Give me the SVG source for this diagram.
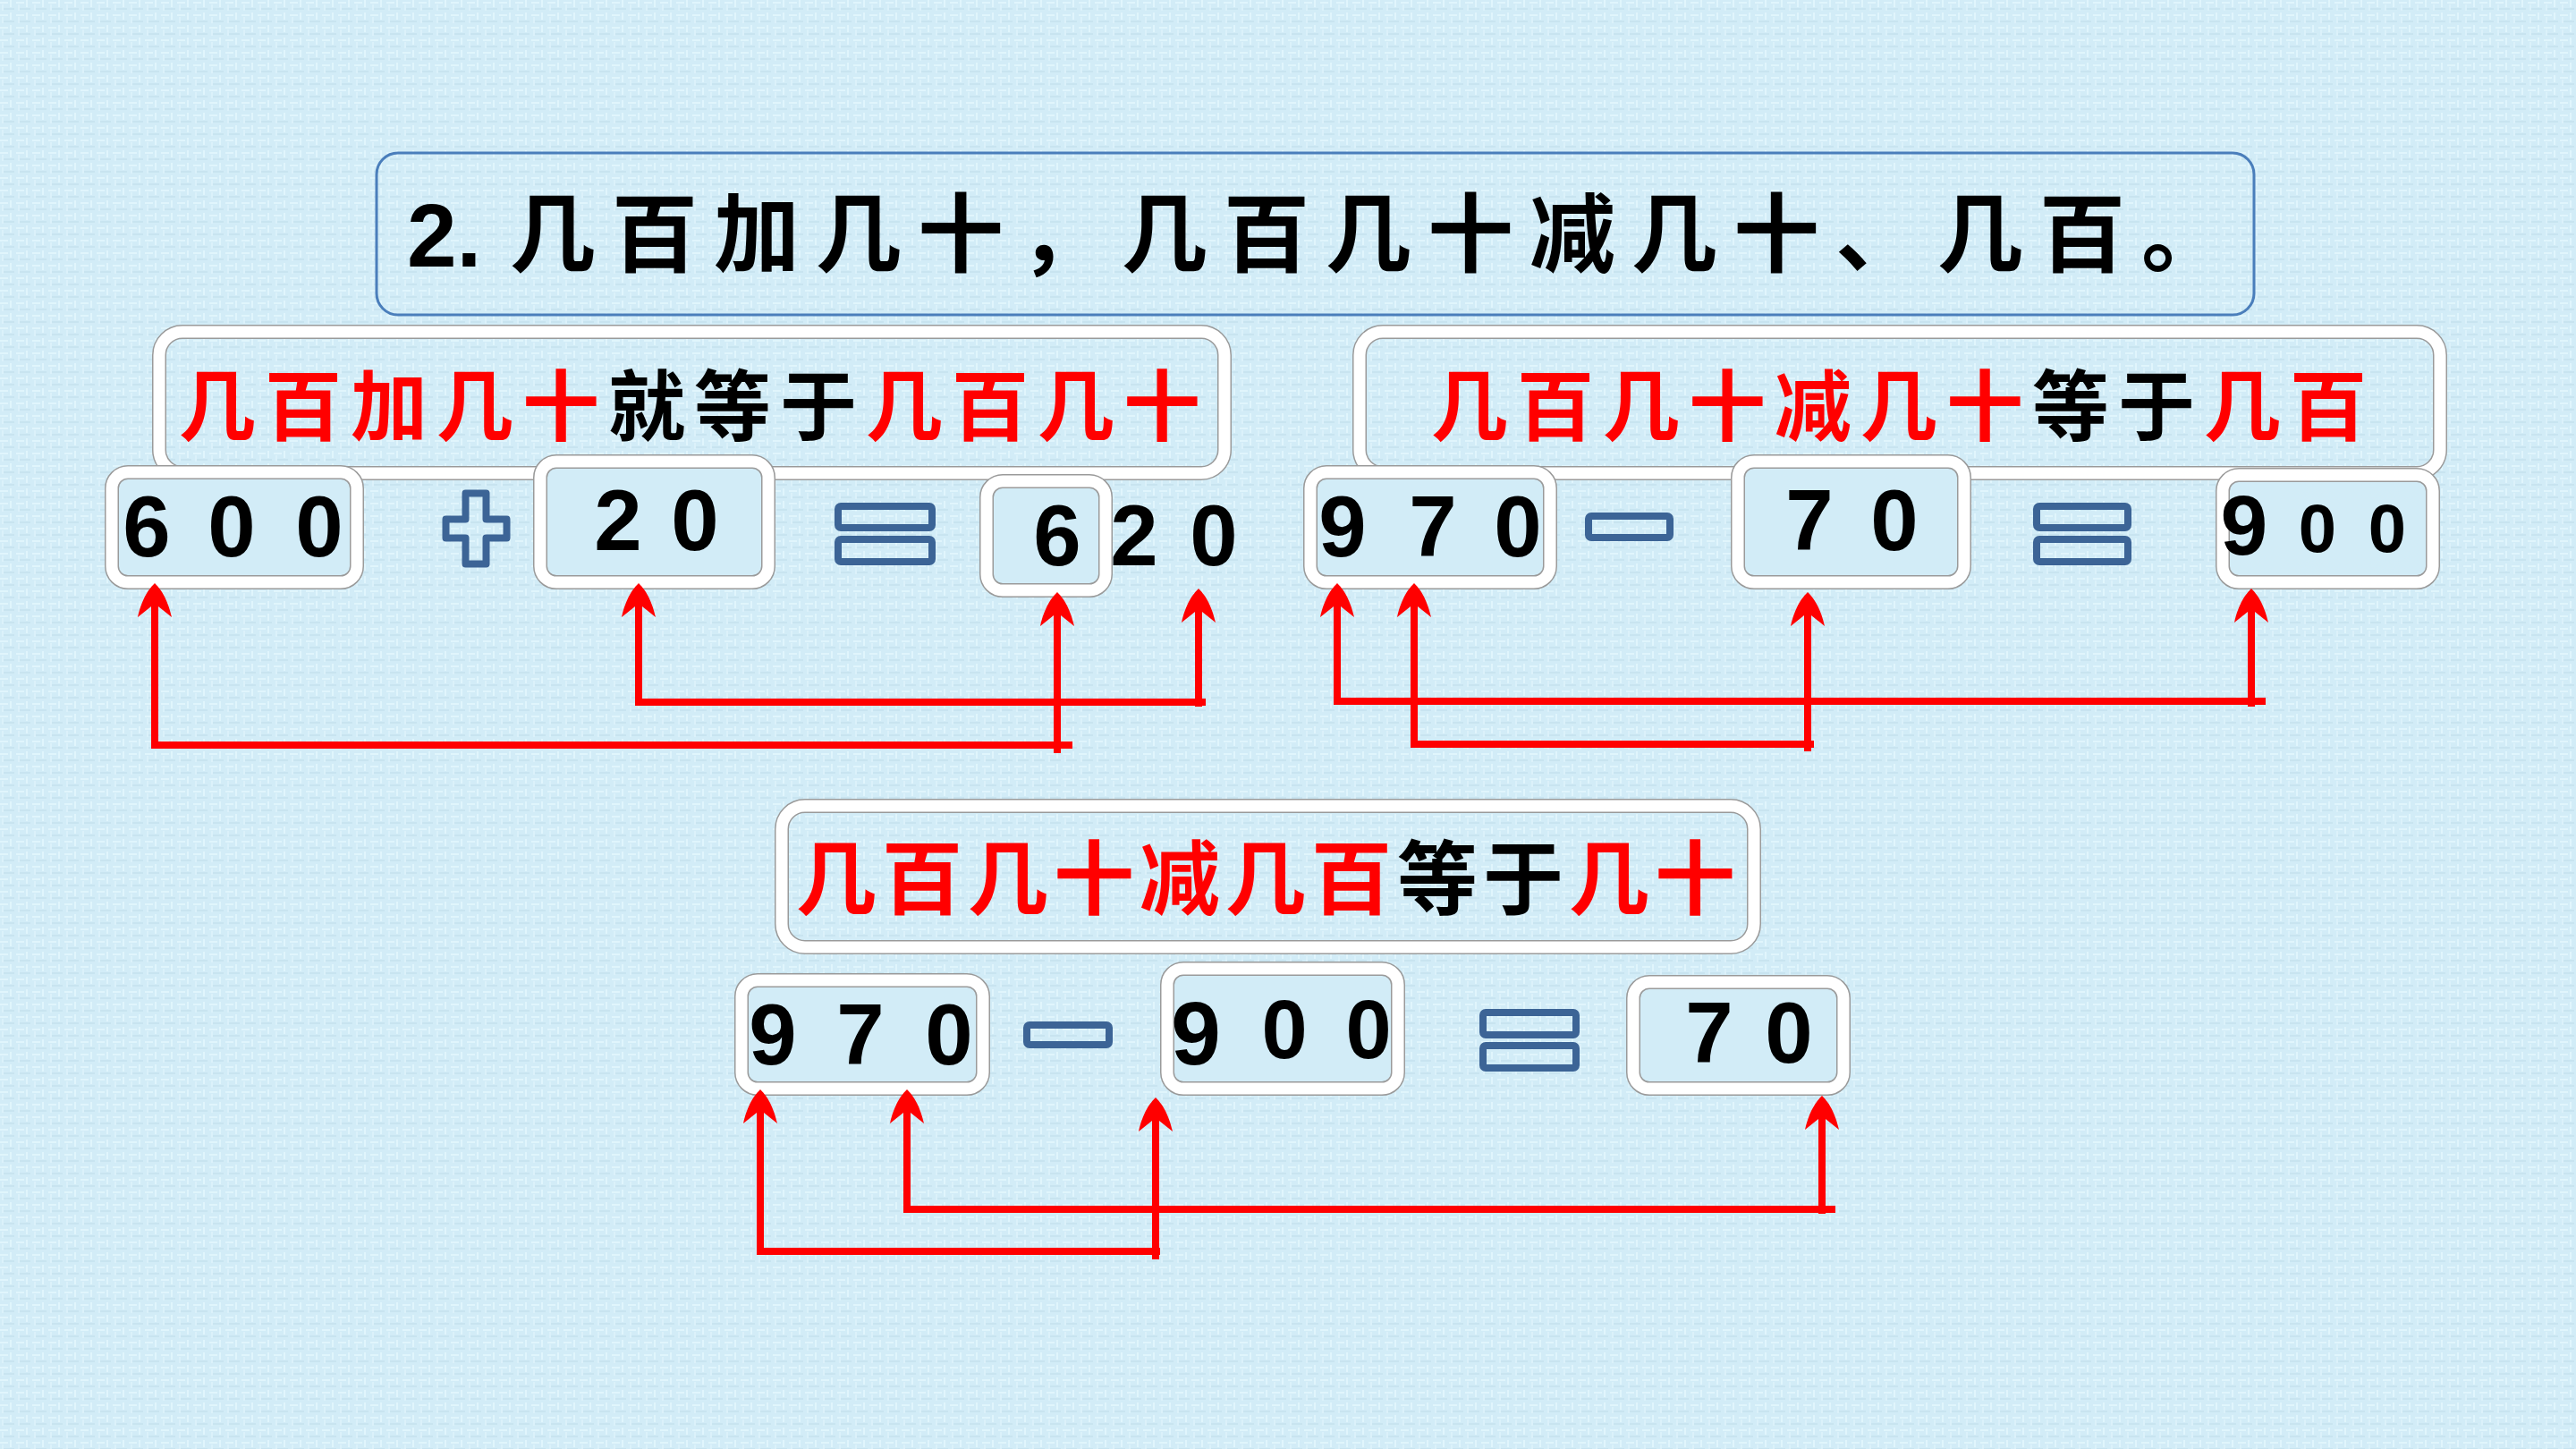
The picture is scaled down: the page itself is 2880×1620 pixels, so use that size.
<svg xmlns="http://www.w3.org/2000/svg" width="2880" height="1620" viewBox="0 0 2880 1620">
<defs>
<pattern id="tex" width="18" height="14" patternUnits="userSpaceOnUse">
<rect width="18" height="14" fill="#d2ecf7"/>
<rect x="0" y="2" width="9" height="2" fill="#e0f5fc"/>
<rect x="11" y="0" width="2" height="8" fill="#e0f5fc"/>
<rect x="4" y="9" width="12" height="2" fill="#c8e4f0"/>
<rect x="2" y="5" width="2" height="7" fill="#dbf1fa"/>
</pattern>
<marker id="ah" markerUnits="userSpaceOnUse" markerWidth="80" markerHeight="80" refX="0" refY="0" viewBox="-40 -40 80 80" orient="auto" overflow="visible">
<path d="M20,0 C14,-6 4,-14 -18,-19 L-6,-4 L-6,4 L-18,19 C4,14 14,6 20,0 Z" fill="#ff0000"/>
</marker>
<style>
.band-o{fill:none;stroke:#9a9a9a;stroke-width:16}
.band-i{fill:none;stroke:#ffffff;stroke-width:13}
.nb-fill{fill:#d2ecf7}
.cjk{font-family:"Noto Sans CJK SC","Noto Sans CJK JP",sans-serif}
.red{fill:#ff0000}
.blk{fill:#000000}
.dig{font-family:"Liberation Sans",Arial,sans-serif;font-weight:bold;fill:#000;text-anchor:middle}
.op{fill:none;stroke:#3c6496;stroke-width:8;stroke-linejoin:round}
.conn{fill:none;stroke:#ff0000;stroke-width:8;stroke-linejoin:miter}
.arr{marker-end:url(#ah)}
</style>
</defs>
<rect width="2880" height="1620" fill="url(#tex)"/>

<g id="title">
<rect x="421" y="171" width="2099" height="181" rx="24" fill="none" stroke="#4a7ebb" stroke-width="3"/>
<text x="455" y="298" font-family="Liberation Sans, Arial, sans-serif" font-weight="bold" font-size="100" fill="#000">2.</text>
<text x="570" y="296" class="cjk blk" font-size="96" font-weight="bold" letter-spacing="18">几百加几十，几百几十减几十、几百。</text>
</g>

<g id="rule1">
<rect x="178" y="371" width="1191" height="158" rx="26" class="band-o"/>
<rect x="178" y="371" width="1191" height="158" rx="26" class="band-i"/>
<text x="200" y="486" class="cjk" font-size="86" font-weight="bold" letter-spacing="10"><tspan class="red">几百加几十</tspan><tspan class="blk">就等于</tspan><tspan class="red">几百几十</tspan></text>
</g>

<g id="rule2">
<rect x="1520" y="371" width="1208" height="158" rx="26" class="band-o"/>
<rect x="1520" y="371" width="1208" height="158" rx="26" class="band-i"/>
<text x="1600" y="486" class="cjk" font-size="86" font-weight="bold" letter-spacing="10"><tspan class="red">几百几十减几十</tspan><tspan class="blk">等于</tspan><tspan class="red">几百</tspan></text>
</g>

<g id="rule3">
<rect x="874" y="901" width="1087" height="158" rx="26" class="band-o"/>
<rect x="874" y="901" width="1087" height="158" rx="26" class="band-i"/>
<text x="890" y="1015" class="cjk" font-size="90" font-weight="bold" letter-spacing="6"><tspan class="red">几百几十减几百</tspan><tspan class="blk">等于</tspan><tspan class="red">几十</tspan></text>
</g>

<g id="n600">
<rect x="125" y="528" width="274" height="123" rx="18" class="nb-fill"/>
<rect x="125" y="528" width="274" height="123" rx="18" class="band-o"/>
<rect x="125" y="528" width="274" height="123" rx="18" class="band-i"/>
<text class="dig" font-size="96" y="622"><tspan x="164">6</tspan><tspan x="259">0</tspan><tspan x="357">0</tspan></text>
</g>

<g id="plus">
<path class="op" d="M520.5,551.5 H543.5 V580.5 H566.5 V601.5 H543.5 V630.5 H520.5 V601.5 H498.5 V580.5 H520.5 Z"/>
</g>

<g id="n20">
<rect x="604" y="516" width="255" height="135" rx="18" class="nb-fill"/>
<rect x="604" y="516" width="255" height="135" rx="18" class="band-o"/>
<rect x="604" y="516" width="255" height="135" rx="18" class="band-i"/>
<text class="dig" font-size="96" y="615"><tspan x="691">2</tspan><tspan x="777">0</tspan></text>
</g>

<g id="eq1">
<rect class="op" x="937" y="566" width="105" height="24" rx="3"/>
<rect class="op" x="937" y="603" width="105" height="25" rx="3"/>
</g>

<g id="n620">
<rect x="1103" y="538" width="133" height="122" rx="18" class="nb-fill"/>
<rect x="1103" y="538" width="133" height="122" rx="18" class="band-o"/>
<rect x="1103" y="538" width="133" height="122" rx="18" class="band-i"/>
<text class="dig" font-size="96" y="632"><tspan x="1182">6</tspan><tspan x="1268">2</tspan><tspan x="1357">0</tspan></text>
</g>

<g id="n970a">
<rect x="1465" y="528" width="268" height="123" rx="18" class="nb-fill"/>
<rect x="1465" y="528" width="268" height="123" rx="18" class="band-o"/>
<rect x="1465" y="528" width="268" height="123" rx="18" class="band-i"/>
<text class="dig" font-size="96" y="622"><tspan x="1501">9</tspan><tspan x="1602">7</tspan><tspan x="1697">0</tspan></text>
</g>

<g id="minus1">
<rect class="op" x="1776" y="577" width="91" height="24" rx="3"/>
</g>

<g id="n70a">
<rect x="1943" y="516" width="253" height="135" rx="18" class="nb-fill"/>
<rect x="1943" y="516" width="253" height="135" rx="18" class="band-o"/>
<rect x="1943" y="516" width="253" height="135" rx="18" class="band-i"/>
<text class="dig" font-size="96" y="615"><tspan x="2023">7</tspan><tspan x="2118">0</tspan></text>
</g>

<g id="eq2">
<rect class="op" x="2277" y="566" width="102" height="24" rx="3"/>
<rect class="op" x="2277" y="603" width="102" height="25" rx="3"/>
</g>

<g id="n900a">
<rect x="2485" y="531" width="235" height="120" rx="18" class="nb-fill"/>
<rect x="2485" y="531" width="235" height="120" rx="18" class="band-o"/>
<rect x="2485" y="531" width="235" height="120" rx="18" class="band-i"/>
<text class="dig" font-size="95" y="620" x="2509">9</text>
<text class="dig" font-size="76" y="617"><tspan x="2591">0</tspan><tspan x="2669">0</tspan></text>
</g>

<g id="n970b">
<rect x="829" y="1096" width="270" height="121" rx="18" class="nb-fill"/>
<rect x="829" y="1096" width="270" height="121" rx="18" class="band-o"/>
<rect x="829" y="1096" width="270" height="121" rx="18" class="band-i"/>
<text class="dig" font-size="96" y="1190"><tspan x="864">9</tspan><tspan x="962">7</tspan><tspan x="1061">0</tspan></text>
</g>

<g id="minus2">
<rect class="op" x="1148" y="1146" width="92" height="22" rx="3"/>
</g>

<g id="n900b">
<rect x="1305" y="1083" width="258" height="134" rx="18" class="nb-fill"/>
<rect x="1305" y="1083" width="258" height="134" rx="18" class="band-o"/>
<rect x="1305" y="1083" width="258" height="134" rx="18" class="band-i"/>
<text class="dig" font-size="100" y="1190" x="1337">9</text>
<text class="dig" font-size="92" y="1183"><tspan x="1436">0</tspan><tspan x="1530">0</tspan></text>
</g>

<g id="eq3">
<rect class="op" x="1658" y="1132" width="104" height="25" rx="3"/>
<rect class="op" x="1658" y="1169" width="104" height="25" rx="3"/>
</g>

<g id="n70b">
<rect x="1826" y="1098" width="235" height="119" rx="18" class="nb-fill"/>
<rect x="1826" y="1098" width="235" height="119" rx="18" class="band-o"/>
<rect x="1826" y="1098" width="235" height="119" rx="18" class="band-i"/>
<text class="dig" font-size="96" y="1188"><tspan x="1911">7</tspan><tspan x="2000">0</tspan></text>
</g>

<g id="connectors">
<path class="conn arr" d="M1199,833 H173 V672"/>
<path class="conn arr" d="M1182,842 V682"/>
<path class="conn arr" d="M1348,785 H714 V672"/>
<path class="conn arr" d="M1340,790 V678"/>
<path class="conn arr" d="M2533,784 H1495 V672"/>
<path class="conn arr" d="M2517,790 V678"/>
<path class="conn arr" d="M2028,832 H1581 V672"/>
<path class="conn arr" d="M2021,840 V682"/>
<path class="conn arr" d="M1297,1399 H850 V1238"/>
<path class="conn arr" d="M1292,1408 V1247"/>
<path class="conn arr" d="M2052,1352 H1014 V1238"/>
<path class="conn arr" d="M2037,1357 V1245"/>
</g>
</svg>
